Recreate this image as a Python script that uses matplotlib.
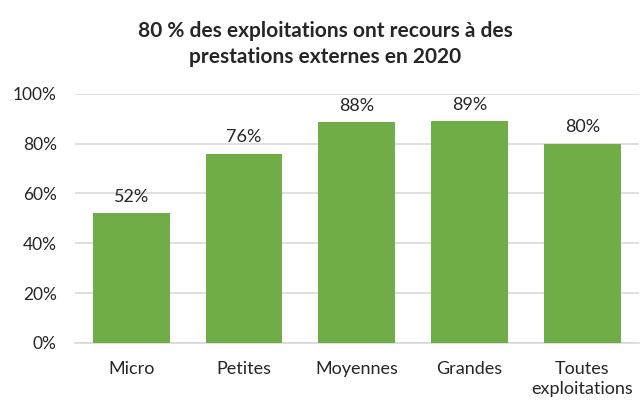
import matplotlib.pyplot as plt
import numpy as np

plt.rcParams['font.family'] = ['Lato', 'DejaVu Sans']

categories = ['Micro', 'Petites', 'Moyennes', 'Grandes', 'Toutes\nexploitations']
values = [0.52, 0.76, 0.885, 0.89, 0.80]
labels = ['52%', '76%', '88%', '89%', '80%']
title = '80 % des exploitations ont recours à des\nprestations externes en 2020'

fig = plt.figure(figsize=(6.4, 4.01), dpi=100)
ax = fig.add_axes([0.117, 0.145, 0.881, 0.621])

x = np.arange(len(categories))
ax.bar(x, values, width=0.68, color='#70AD47', zorder=3)

# value labels above the bars
for xi, v, lab in zip(x, values, labels):
    ax.text(xi, v + 0.035, lab, ha='center', va='bottom', fontsize=13, color='#262626')

ax.set_xlim(-0.5, len(categories) - 0.5)
ax.set_ylim(0, 1)
ax.set_yticks(np.arange(0, 1.01, 0.2))
ax.set_yticklabels(['0%', '20%', '40%', '60%', '80%', '100%'], fontsize=12.5, color='#262626')
ax.set_xticks(x)
ax.set_xticklabels(categories, fontsize=13, color='#262626', linespacing=1.3)
ax.yaxis.grid(True, color='#D9D9D9', linewidth=1.2, zorder=0)
ax.tick_params(axis='x', length=0, pad=13)
ax.tick_params(axis='y', length=0, pad=13)
for side in ['top', 'right', 'left']:
    ax.spines[side].set_visible(False)
ax.spines['bottom'].set_color('#D9D9D9')
ax.spines['bottom'].set_linewidth(1.2)

fig.text(0.508, 0.891, title, ha='center', va='center', fontsize=15, fontweight='bold',
         color='#262626', linespacing=1.4)

fig.savefig('out.png', dpi=100)
